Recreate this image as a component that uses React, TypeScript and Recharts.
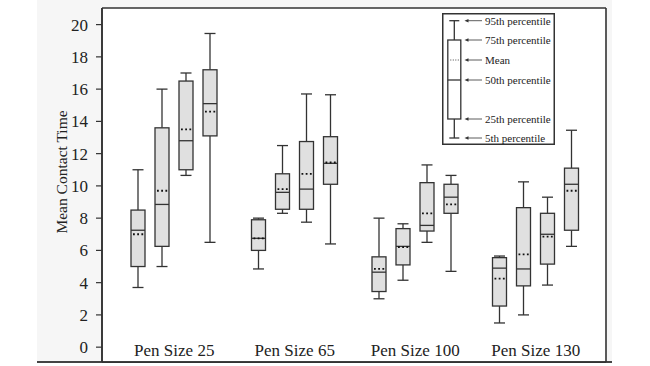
import { Bar, CartesianGrid, ComposedChart, Legend, XAxis, YAxis } from 'recharts';

const FONT = '"Liberation Serif", "DejaVu Serif", serif';
const INK = '#333';

const GROUPS = ['Pen Size 25', 'Pen Size 65', 'Pen Size 100', 'Pen Size 130'];
const BOXES = ['Box 1', 'Box 2', 'Box 3', 'Box 4'];

// one row per group, four boxes per group
const P5 = [
  [3.7, 5.0, 10.65, 6.5],
  [4.85, 8.3, 7.75, 6.4],
  [3.0, 4.15, 6.5, 4.7],
  [1.5, 2.0, 3.85, 6.25],
];
const P25 = [
  [5.0, 6.25, 11.0, 13.1],
  [6.0, 8.55, 8.55, 10.1],
  [3.45, 5.1, 7.2, 8.3],
  [2.55, 3.8, 5.15, 7.25],
];
const MEDIAN = [
  [7.25, 8.85, 12.8, 15.1],
  [6.75, 9.6, 9.8, 11.4],
  [4.65, 6.25, 7.55, 9.3],
  [4.9, 4.85, 7.0, 10.1],
];
const MEAN = [
  [7.0, 9.7, 13.5, 14.6],
  [6.75, 9.8, 10.75, 11.45],
  [4.85, 6.2, 8.3, 8.85],
  [4.25, 5.75, 6.85, 9.7],
];
const P75 = [
  [8.5, 13.6, 16.5, 17.2],
  [7.9, 10.75, 12.75, 13.05],
  [5.6, 7.35, 10.2, 10.1],
  [5.55, 8.65, 8.3, 11.1],
];
const P95 = [
  [11.0, 16.0, 17.0, 19.45],
  [8.0, 12.5, 15.7, 15.65],
  [8.0, 7.65, 11.3, 10.65],
  [5.65, 10.25, 9.3, 13.45],
];

const Y_TICKS = [0, 2, 4, 6, 8, 10, 12, 14, 16, 18, 20];
const Y_DOMAIN = [-0.92, 21.03];
const LEGEND_LABELS = [
  '95th percentile',
  '75th percentile',
  'Mean',
  '50th percentile',
  '25th percentile',
  '5th percentile',
];

const DATA = GROUPS.map((name, g) => ({
  name,
  p5: P5[g],
  p25: P25[g],
  median: MEDIAN[g],
  mean: MEAN[g],
  p75: P75[g],
  p95: P95[g],
}));

// plot frame in page pixels
const W = 650;
const H = 366;
const PLOT = { left: 102, top: 8, right: 606, bottom: 362 };

function BoxShape(props: any) {
  const { x, y, width, height, payload, s } = props;
  const lo = payload.p5[s];
  const hi = payload.p95[s];
  const top = Math.min(y, y + height);
  const k = Math.abs(height) / (hi - lo);
  const py = (v: number) => top + (hi - v) * k;
  const cx = x + width / 2;
  const bw = 14;
  const cw = 11;
  const line = { stroke: INK, strokeWidth: 1.3 };
  return (
    <g>
      <line x1={cx} x2={cx} y1={py(hi)} y2={py(payload.p75[s])} {...line} />
      <line x1={cx} x2={cx} y1={py(payload.p25[s])} y2={py(lo)} {...line} />
      <line x1={cx - cw / 2} x2={cx + cw / 2} y1={py(hi)} y2={py(hi)} {...line} />
      <line x1={cx - cw / 2} x2={cx + cw / 2} y1={py(lo)} y2={py(lo)} {...line} />
      <rect
        x={cx - bw / 2}
        y={py(payload.p75[s])}
        width={bw}
        height={py(payload.p25[s]) - py(payload.p75[s])}
        fill="#e0e0e0"
        {...line}
      />
      <line
        x1={cx - bw / 2}
        x2={cx + bw / 2}
        y1={py(payload.median[s])}
        y2={py(payload.median[s])}
        {...line}
      />
      <line
        x1={cx - bw / 2 + 2}
        x2={cx + bw / 2}
        y1={py(payload.mean[s])}
        y2={py(payload.mean[s])}
        stroke="#111"
        strokeWidth={1.8}
        strokeDasharray="1.8 2.4"
      />
    </g>
  );
}

function GroupTick(props: any) {
  const { x, y, payload } = props;
  return (
    <text x={x} y={y - 6} textAnchor="middle" fontSize={17} fill="#222" fontFamily={FONT}>
      {payload.value}
    </text>
  );
}

function AxisTitle(props: any) {
  const vb = props.viewBox ?? { x: 0, y: 8, height: 354 };
  const cx = vb.x + 61;
  const cy = vb.y + 164;
  return (
    <text
      x={cx}
      y={cy}
      transform={`rotate(-90 ${cx} ${cy})`}
      textAnchor="middle"
      dominantBaseline="central"
      fontSize={15.5}
      fill="#222"
      fontFamily={FONT}
    >
      Mean Contact Time
    </text>
  );
}

function LegendKey() {
  const ys = [7.7, 27, 47, 67, 106, 125];
  const wx = 12.3;
  return (
    <svg width={113} height={132} style={{ display: 'block' }}>
      <rect x={0.75} y={0.75} width={111.5} height={130.5} fill="#fff" stroke={INK} strokeWidth={1.5} />
      <line x1={wx} x2={wx} y1={ys[0]} y2={ys[1]} stroke={INK} strokeWidth={1.3} />
      <line x1={wx} x2={wx} y1={ys[4]} y2={ys[5]} stroke={INK} strokeWidth={1.3} />
      <line x1={wx - 5} x2={wx + 5} y1={ys[0]} y2={ys[0]} stroke={INK} strokeWidth={1.3} />
      <line x1={wx - 5} x2={wx + 5} y1={ys[5]} y2={ys[5]} stroke={INK} strokeWidth={1.3} />
      <rect x={wx - 6.5} y={ys[1]} width={13} height={ys[4] - ys[1]} fill="#fff" stroke={INK} strokeWidth={1.3} />
      <line x1={wx - 6.5} x2={wx + 6.5} y1={ys[3]} y2={ys[3]} stroke={INK} strokeWidth={1.3} />
      <line x1={wx - 4} x2={wx + 5} y1={ys[2]} y2={ys[2]} stroke={INK} strokeWidth={0.9} strokeDasharray="1 1.5" />
      {LEGEND_LABELS.map((label, i) => (
        <g key={label}>
          <line x1={25} x2={40} y1={ys[i]} y2={ys[i]} stroke={INK} strokeWidth={0.8} />
          <polygon points={`22.5,${ys[i]} 26.5,${ys[i] - 1.8} 26.5,${ys[i] + 1.8}`} fill={INK} />
          <text x={43} y={ys[i]} dominantBaseline="central" fontSize={11} fill="#222" fontFamily={FONT}>
            {label}
          </text>
        </g>
      ))}
    </svg>
  );
}

export default function App() {
  const frame = { stroke: INK, strokeWidth: 1.6 };
  return (
    <div
      style={{
        position: 'absolute',
        left: 0,
        top: 0,
        width: W,
        height: H,
        background: '#fff',
        fontFamily: FONT,
      }}
    >
      <div style={{ position: 'absolute', left: 37, top: 0, width: 575, height: 362, background: '#f6f6f6' }} />
      <div style={{ position: 'absolute', left: 37, top: 361, width: 575, height: 2, background: '#444' }} />
      <div style={{ position: 'absolute', left: 0, top: 0 }}>
        <ComposedChart
          width={W}
          height={H}
          data={DATA}
          margin={{ top: PLOT.top, right: W - PLOT.right, bottom: 0, left: 0 }}
          barGap={0}
        >
          <CartesianGrid
            fill="#fff"
            stroke={INK}
            strokeWidth={1.6}
            horizontalPoints={[PLOT.top, PLOT.bottom]}
            verticalPoints={[PLOT.left, PLOT.right]}
          />
          <XAxis
            dataKey="name"
            height={H - PLOT.bottom}
            axisLine={frame}
            tickLine={false}
            tickSize={0}
            tickMargin={0}
            padding={{ left: 12, right: 10 }}
            tick={<GroupTick />}
            interval={0}
          />
          <YAxis
            type="number"
            width={PLOT.left}
            domain={Y_DOMAIN}
            ticks={Y_TICKS}
            allowDataOverflow
            axisLine={frame}
            tickSize={6}
            tickMargin={8}
            tickLine={{ stroke: INK, strokeWidth: 1.2 }}
            tick={{ fontSize: 17, fill: '#222', fontFamily: FONT }}
            label={<AxisTitle />}
          />
          <Legend
            layout="horizontal"
            verticalAlign="middle"
            align="center"
            content={() => <LegendKey />}
            wrapperStyle={{ position: 'absolute', left: 442, top: 13, width: 113, height: 132 }}
          />
          {BOXES.map((box, i) => (
            <Bar
              key={box}
              name={box}
              dataKey={(row: any) => [row.p5[i], row.p95[i]]}
              barSize={24}
              isAnimationActive={false}
              shape={(p: any) => <BoxShape {...p} s={i} />}
            />
          ))}
        </ComposedChart>
      </div>
    </div>
  );
}
